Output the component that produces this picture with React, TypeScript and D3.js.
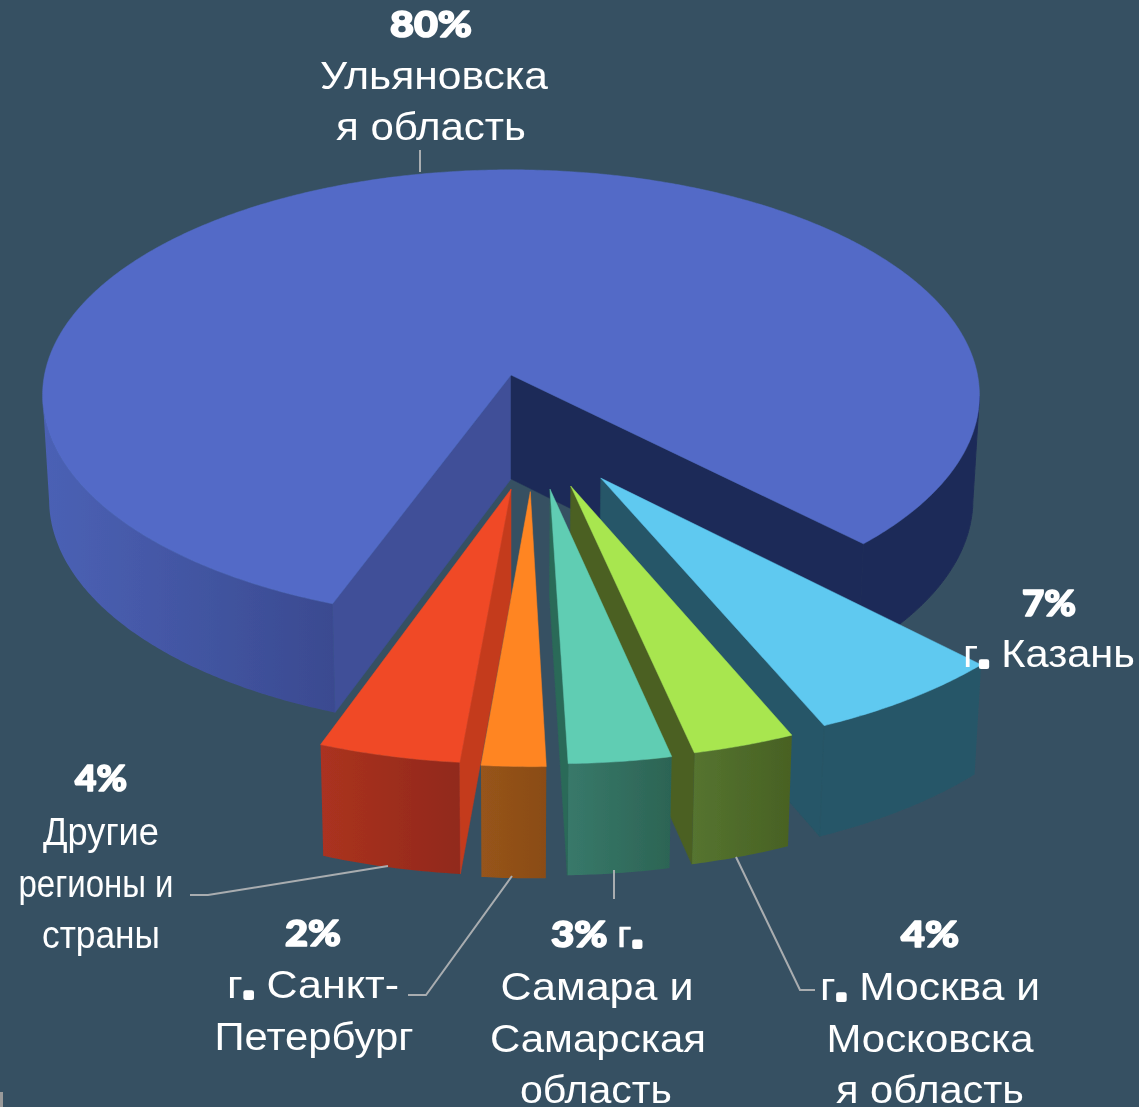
import React from "react";
import * as d3 from "d3";

const W = 1139, H = 1107;

// Slice order runs clockwise from the left edge of the big slice.
const regions = ["Ульяновская область", "г. Казань", "г. Москва и Московская область", "г. Самара и Самарская область", "г. Санкт-Петербург", "Другие регионы и страны"];
// Angular shares
const angularShares = [81.8, 6.0, 3.05, 3.05, 1.9, 4.2];
const percentLabels = ["80%", "7%", "4%", "3%", "2%", "4%"];

// Explosion of each slice, in disk radii
const explodeX = [0, 0.187, 0.124, 0.081, 0.04, 0];
const explodeY = [0, 0.448, 0.481, 0.494, 0.504, 0.494];
const radii = [1.012, 1.027, 1.027, 1.027, 1.027, 1.027];

const topColors = ["#526bc7", "#5ec9f0", "#a8e650", "#60cdb3", "#ff8522", "#f04925"];
const wallStart = ["#4b61b5", "#265667", "#557430", "#38796a", "#97541a", "#ab3220"];
const wallEnd = ["#3a4a90", "#265667", "#486123", "#2c6454", "#8a4c17", "#91291a"];
const radialWall = ["#3f5098", "#265667", "#4b6024", "#2b6a58", "#8a4c17", "#c43b1f"];
const mainRightWall = "#1f2c58";
const bg = "#365062";
const leaderColor = "#a9adb0";
const drawOrder = [0, 1, 2, 3, 5, 4];

const pie = d3.pie<number>().sort(null)
  .startAngle((200.5 * Math.PI) / 180)
  .endAngle((560.5 * Math.PI) / 180);
const arcs = pie(angularShares);

// perspective projection of the disk plane
const persp = 0.0889;
const sx = d3.scaleLinear().domain([-1, 1]).range([511 - 461, 511 + 461]);
const sy = d3.scaleLinear().domain([-1, 1]).range([375 - 221, 375 + 221]);
function project(X: number, Y: number, z: number): [number, number] {
  const s = 1 / (1 - persp * Y);
  const shrink = 1 - 0.014 * z;
  const cx = sx(0);
  return [cx + (sx(X * s) - cx) * shrink, sy(Y * s) + z * (104 + 5 * Y)];
}
const line = d3.line<[number, number]>();

type Lbl = { t: string; x: number; y: number; w?: number; bold?: boolean; dot?: string };
const labels: Lbl[] = [
  { t: percentLabels[0], x: 431, y: 37, bold: true, w: 82 },
  { t: "Ульяновска", x: 434, y: 89, w: 228 },
  { t: "я область", x: 431, y: 140, w: 190 },
  { t: percentLabels[1], x: 1049, y: 616, bold: true, w: 54 },
  { t: "Казань", dot: "г", x: 1049, y: 667, w: 172 },
  { t: percentLabels[2], x: 101, y: 791, bold: true, w: 52 },
  { t: "Другие", x: 101, y: 845, w: 116 },
  { t: "регионы и", x: 96, y: 897, w: 155 },
  { t: "страны", x: 101, y: 948, w: 118 },
  { t: percentLabels[4], x: 313, y: 946, bold: true, w: 56 },
  { t: "Санкт-", dot: "г", x: 313, y: 998, w: 172 },
  { t: "Петербург", x: 314, y: 1050, w: 199 },
  { t: percentLabels[3] + " ", dot: "г", x: 597, y: 947, bold: true, w: 92 },
  { t: "Самара и", x: 597, y: 1000, w: 193 },
  { t: "Самарская", x: 598, y: 1052, w: 216 },
  { t: "область", x: 596, y: 1103, w: 152 },
  { t: percentLabels[5], x: 930, y: 947, bold: true, w: 58 },
  { t: "Москва и", dot: "г", x: 930, y: 1000, w: 220 },
  { t: "Московска", x: 930, y: 1052, w: 207 },
  { t: "я область", x: 930, y: 1103, w: 188 },
];
const leaders: [number, number][][] = [
  [[420, 150], [420, 172]],
  [[388, 866], [208, 895], [190, 895]],
  [[512, 876], [426, 995], [408, 995]],
  [[614, 870], [614, 899]],
  [[736, 857], [800, 990], [815, 990]],
];

function runsOf(a0: number, a1: number): number[][] {
  const step = Math.PI / 180 / 2;
  const ts = d3.range(a0, a1, step).concat(a1);
  const runs: number[][] = [];
  let cur: number[] = [];
  ts.forEach((t) => {
    if (-Math.cos(t) > persp) cur.push(t);
    else if (cur.length) { runs.push(cur); cur = []; }
  });
  if (cur.length) runs.push(cur);
  return runs;
}

function Slice({ i }: { i: number }) {
  const a = arcs[i];
  const r = radii[i];
  const ox = explodeX[i], oy = explodeY[i];
  const pt = (t: number, rr: number, z: number) =>
    project(ox + rr * Math.sin(t), oy - rr * Math.cos(t), z);
  const ts = d3.range(a.startAngle, a.endAngle, Math.PI / 360).concat(a.endAngle);
  const top = [pt(0, 0, 0), ...ts.map((t) => pt(t, r, 0))];
  const runs = runsOf(a.startAngle, a.endAngle);
  const walls: React.ReactNode[] = [];
  runs.forEach((run, k) => {
    const poly = [...run.map((t) => pt(t, r, 0)), ...run.slice().reverse().map((t) => pt(t, r, 1))];
    const right = i === 0 && Math.sin(run[0]) > 0;
    walls.push(
      <path key={"o" + k} d={line(poly) + "Z"} fill={right ? mainRightWall : `url(#wall${i})`}
        stroke={right ? mainRightWall : "none"} strokeWidth={1} />
    );
  });
  const radial = (t: number, color: string, key: string) => {
    const poly = [pt(0, 0, 0), pt(t, r, 0), pt(t, r, 1), pt(0, 0, 1)];
    return <path key={key} d={line(poly) + "Z"} fill={color} stroke={color} strokeWidth={0.5} />;
  };
  if (-Math.sin(a.startAngle) > 0) walls.push(radial(a.startAngle, radialWall[i], "s"));
  if (Math.sin(a.endAngle) > 0)
    walls.push(radial(a.endAngle, i === 0 ? mainRightWall : radialWall[i], "e"));
  return (
    <g data-region={regions[i]}>
      {walls}
      <path d={line(top) + "Z"} fill={topColors[i]} stroke={topColors[i]} strokeWidth={0.5} />
    </g>
  );
}

const bodyFont = "'Liberation Sans', Arial, sans-serif";
const boldFont = "Lato, 'DejaVu Sans', sans-serif";

function Label({ l }: { l: Lbl }) {
  if (l.bold) {
    return (
      <text x={l.x} y={l.y} textAnchor="middle" fontFamily={boldFont} fontWeight={900} fontSize={36} fill="#fff"
        stroke="#fff" strokeWidth={1.6} strokeLinejoin="round" textLength={l.w} lengthAdjust="spacingAndGlyphs">
        {l.t}
        {l.dot && <tspan fontFamily={bodyFont} fontWeight={400} strokeWidth={0.4}>{l.dot}<tspan strokeWidth={4} fontWeight={700}>.</tspan></tspan>}
      </text>
    );
  }
  return (
    <text x={l.x} y={l.y} textAnchor="middle" fontFamily={bodyFont} fontSize={38} fill="#fff"
      strokeLinejoin="round" textLength={l.w} lengthAdjust="spacingAndGlyphs">
      {l.dot && <tspan>{l.dot}<tspan stroke="#fff" strokeWidth={4} fontWeight={700}>. </tspan></tspan>}
      {l.t}
    </text>
  );
}

export default function App() {
  return (
    <svg width={W} height={H} viewBox={`0 0 ${W} ${H}`} style={{ position: "fixed", left: 0, top: 0, display: "block" }}>
      <defs>
        {wallStart.map((c, i) => (
          <linearGradient key={i} id={`wall${i}`} x1="0" x2="1" y1="0" y2="0">
            <stop offset="0" stopColor={c} />
            <stop offset="1" stopColor={wallEnd[i]} />
          </linearGradient>
        ))}
        <filter id="soft" x="-2%" y="-2%" width="104%" height="104%">
          <feGaussianBlur stdDeviation={0.6} />
        </filter>
      </defs>
      <rect width={W} height={H} fill={bg} />
      <g filter="url(#soft)">
        <rect x={0} y={1092} width={3} height={15} fill="#9a9a9a" />
        {drawOrder.map((i) => <Slice key={i} i={i} />)}
        {leaders.map((p, i) => (
          <path key={i} d={line(p) ?? ""} fill="none" stroke={leaderColor} strokeWidth={2} />
        ))}
        {labels.map((l, i) => <Label key={i} l={l} />)}
      </g>
    </svg>
  );
}
